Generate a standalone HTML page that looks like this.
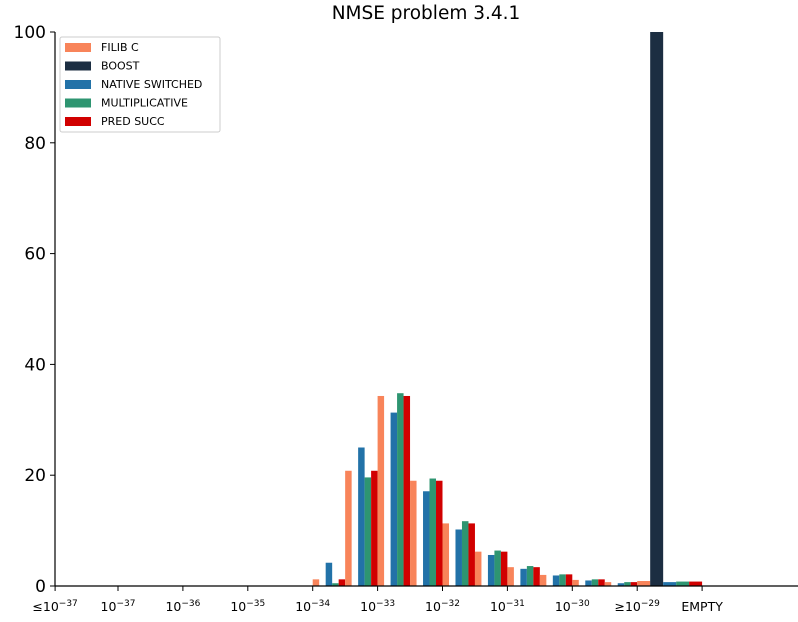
<!DOCTYPE html>
<html><head><meta charset="utf-8"><style>
body{margin:0;background:#fff;font-family:"Liberation Sans","DejaVu Sans",sans-serif}
</style></head><body>
<svg id="chart" width="798" height="617" xmlns="http://www.w3.org/2000/svg" font-family="DejaVu Sans, Liberation Sans, sans-serif">
<text x="426" y="19" font-size="18.5" text-anchor="middle">NMSE problem 3.4.1</text>
<g id="bars"></g>
<g id="axes"></g>
<g id="legend">
<rect x="60" y="37" width="160" height="95" fill="#fff" stroke="#ccc" rx="2"/>
</g>
</svg>
<script>
const seriesNames=["FILIB C","BOOST","NATIVE SWITCHED","MULTIPLICATIVE","PRED SUCC"];
const seriesColors=["#f8845a","#1c2e42","#2272a8","#2e9571","#d10000"];
const tickLabels=[["≤10","−37"],["10","−37"],["10","−36"],["10","−35"],["10","−34"],["10","−33"],["10","−32"],["10","−31"],["10","−30"],["≥10","−29"],["EMPTY",""]];
const yTicks=[0,20,40,60,80,100];
const filib=[0,0,0,0,0,0,0,0,1.2,20.8,34.3,19.0,11.3,6.2,3.4,2.0,1.1,0.7,0.9];
const boost=[0,0,0,0,0,0,0,0,0,0,0,0,0,0,0,0,0,0,100];
const nativeSw=[0,0,0,0,0,0,0,0,4.2,25.0,31.3,17.1,10.2,5.6,3.1,1.9,1.0,0.5,0.7];
const multiplicative=[0,0,0,0,0,0,0,0,0.5,19.6,34.8,19.4,11.7,6.4,3.6,2.1,1.2,0.7,0.8];
const predSucc=[0,0,0,0,0,0,0,0,1.2,20.8,34.3,19.0,11.3,6.2,3.4,2.1,1.2,0.7,0.8];
const series=[filib,boost,nativeSw,multiplicative,predSucc];
const NS="http://www.w3.org/2000/svg";
const x0=53.1, tickStep=64.9, yBase=586, yTop=32;
const xTick=i=>x0+i*tickStep;
const yScale=v=>yBase-(v/100)*(yBase-yTop);
const binStart=k=>k<18?k*0.5:9;
const binWidth=k=>k<18?0.5:1;
const barsG=document.getElementById('bars');
for(let k=0;k<filib.length;k++){
  const bw=binWidth(k)*tickStep/5;
  for(let s=0;s<series.length;s++){
    const v=series[s][k]; if(v<=0) continue;
    const r=document.createElementNS(NS,'rect');
    const x=xTick(binStart(k))+s*bw;
    r.setAttribute('x',x);r.setAttribute('width',bw);
    r.setAttribute('y',yScale(v));r.setAttribute('height',yBase-yScale(v));
    r.setAttribute('fill',seriesColors[s]);
    
    
    barsG.appendChild(r);
  }
}
const ax=document.getElementById('axes');
function add(tag,attrs,text){const e=document.createElementNS(NS,tag);for(const a in attrs)e.setAttribute(a,attrs[a]);if(text!==undefined)e.textContent=text;ax.appendChild(e);return e;}
const yl=add('line',{x1:55,y1:yTop,x2:55,y2:yBase,stroke:'#000','stroke-width':1.2});


const xl=add('line',{x1:55,y1:yBase,x2:798,y2:yBase,stroke:'#000','stroke-width':1.2});


yTicks.forEach(v=>{
  add('line',{x1:50,x2:55,y1:yScale(v),y2:yScale(v),stroke:'#000'});
  const t=add('text',{x:46,y:yScale(v)+6,'font-size':17,'text-anchor':'end'},String(v));
  
  
});
tickLabels.forEach((l,i)=>{
  const x=xTick(i)+(i===0?2:0);
  add('line',{x1:x,x2:x,y1:yBase,y2:yBase+5,stroke:'#000'});
  const t=add('text',{x:x,y:611,'font-size':12.5,'text-anchor':'middle'});
  
  
  const a=document.createElementNS(NS,'tspan');a.textContent=l[0];t.appendChild(a);
  if(l[1]){const b=document.createElementNS(NS,'tspan');b.setAttribute('dy','-5');b.setAttribute('font-size','9');b.textContent=l[1];t.appendChild(b);}
});
const lg=document.getElementById('legend');
seriesNames.forEach((n,i)=>{
  const y=47+i*18.5;
  const r=document.createElementNS(NS,'rect');
  r.setAttribute('x',65);r.setAttribute('y',y-4);r.setAttribute('width',26);r.setAttribute('height',9);r.setAttribute('fill',seriesColors[i]);
  
  
  lg.appendChild(r);
  const t=document.createElementNS(NS,'text');
  t.setAttribute('x',101);t.setAttribute('y',y+4);t.setAttribute('font-size',11);t.textContent=n;
  
  
  lg.appendChild(t);
});
</script>
</body></html>
